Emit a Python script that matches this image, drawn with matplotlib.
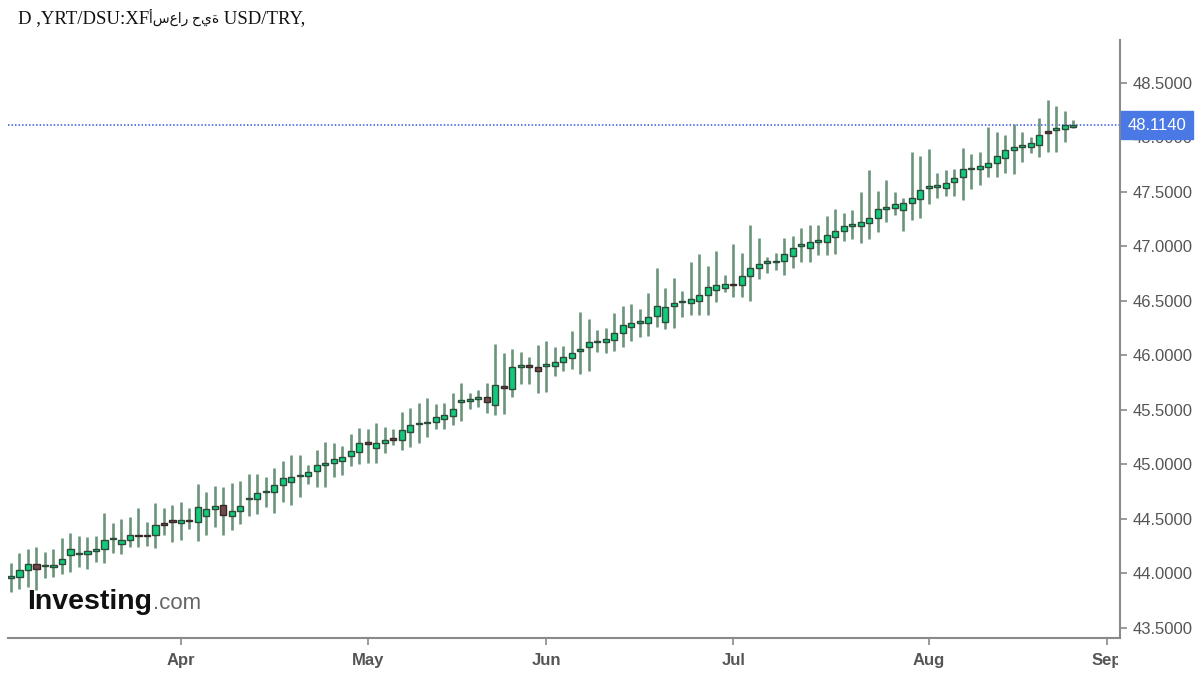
import numpy as np
import pandas as pd
import matplotlib
matplotlib.use("agg")
import matplotlib.pyplot as plt
from matplotlib.transforms import Bbox

# daily USD/TRY candles (weekdays from 2026-03-04)
dates = pd.bdate_range("2026-03-04", periods=126)

opens = [43.960, 43.971, 44.033, 44.087, 44.065, 44.060, 44.090, 44.167, 44.178, 44.179,
         44.210, 44.222, 44.312, 44.271, 44.308, 44.355, 44.353, 44.354, 44.461, 44.480,
         44.461, 44.490, 44.470, 44.531, 44.589, 44.628, 44.530, 44.576, 44.680, 44.680,
         44.745, 44.751, 44.812, 44.842, 44.890, 44.897, 44.943, 44.997, 45.017, 45.032,
         45.078, 45.111, 45.197, 45.154, 45.194, 45.240, 45.225, 45.301, 45.368, 45.377,
         45.393, 45.414, 45.445, 45.574, 45.583, 45.605, 45.616, 45.546, 45.714, 45.696,
         45.898, 45.907, 45.895, 45.905, 45.904, 45.944, 45.980, 46.045, 46.081, 46.122,
         46.124, 46.142, 46.203, 46.259, 46.302, 46.302, 46.363, 46.311, 46.455, 46.486,
         46.479, 46.500, 46.555, 46.601, 46.617, 46.656, 46.644, 46.730, 46.806, 46.850,
         46.853, 46.867, 46.913, 47.008, 46.984, 47.043, 47.045, 47.085, 47.146, 47.188,
         47.191, 47.219, 47.265, 47.348, 47.350, 47.335, 47.396, 47.436, 47.537, 47.547,
         47.540, 47.589, 47.635, 47.709, 47.711, 47.733, 47.769, 47.809, 47.885, 47.914,
         47.910, 47.931, 48.063, 48.066, 48.078, 48.093]
highs = [44.094, 44.185, 44.225, 44.241, 44.200, 44.222, 44.323, 44.369, 44.348, 44.332,
         44.345, 44.552, 44.460, 44.497, 44.522, 44.598, 44.476, 44.644, 44.598, 44.629,
         44.660, 44.598, 44.822, 44.751, 44.800, 44.790, 44.833, 44.851, 44.910, 44.910,
         44.888, 44.965, 45.035, 45.087, 45.087, 44.995, 45.133, 45.209, 45.194, 45.173,
         45.280, 45.338, 45.322, 45.384, 45.347, 45.322, 45.484, 45.515, 45.561, 45.607,
         45.555, 45.561, 45.659, 45.751, 45.659, 45.684, 45.751, 46.106, 46.020, 46.057,
         46.035, 45.989, 46.096, 46.136, 46.081, 46.090, 46.225, 46.402, 46.332, 46.234,
         46.255, 46.387, 46.454, 46.473, 46.424, 46.577, 46.800, 46.617, 46.708, 46.592,
         46.861, 46.931, 46.825, 46.962, 46.739, 47.023, 46.944, 47.198, 47.075, 46.901,
         46.944, 47.075, 47.097, 47.167, 47.198, 47.198, 47.280, 47.341, 47.305, 47.335,
         47.497, 47.702, 47.512, 47.610, 47.497, 47.442, 47.864, 47.830, 47.891, 47.671,
         47.702, 47.711, 47.907, 47.846, 47.864, 48.099, 48.054, 48.023, 48.121, 48.054,
         48.008, 48.182, 48.344, 48.289, 48.243, 48.160]
lows = [43.833, 43.855, 43.880, 43.849, 43.956, 43.971, 43.996, 44.017, 44.063, 44.042,
        44.109, 44.100, 44.190, 44.179, 44.240, 44.240, 44.253, 44.231, 44.354, 44.293,
        44.308, 44.406, 44.302, 44.354, 44.429, 44.353, 44.399, 44.454, 44.527, 44.543,
        44.607, 44.558, 44.659, 44.628, 44.705, 44.821, 44.790, 44.790, 44.882, 44.903,
        44.986, 45.004, 45.017, 45.017, 45.102, 45.179, 45.133, 45.163, 45.194, 45.255,
        45.323, 45.323, 45.362, 45.399, 45.506, 45.525, 45.476, 45.454, 45.463, 45.616,
        45.739, 45.739, 45.653, 45.665, 45.812, 45.861, 45.873, 45.830, 45.861, 46.029,
        46.020, 46.044, 46.081, 46.136, 46.173, 46.179, 46.265, 46.240, 46.250, 46.357,
        46.372, 46.372, 46.372, 46.494, 46.586, 46.540, 46.534, 46.503, 46.699, 46.760,
        46.785, 46.739, 46.800, 46.861, 46.861, 46.922, 46.922, 46.932, 47.054, 47.069,
        47.035, 47.069, 47.130, 47.228, 47.289, 47.142, 47.243, 47.258, 47.387, 47.448,
        47.466, 47.466, 47.427, 47.525, 47.564, 47.641, 47.641, 47.671, 47.662, 47.778,
        47.855, 47.824, 47.864, 47.864, 47.962, 48.084]
closes = [43.970, 44.033, 44.088, 44.045, 44.070, 44.080, 44.137, 44.225, 44.182, 44.210,
          44.222, 44.308, 44.316, 44.308, 44.350, 44.340, 44.342, 44.445, 44.449, 44.475,
          44.491, 44.477, 44.614, 44.589, 44.619, 44.535, 44.576, 44.622, 44.685, 44.735,
          44.752, 44.812, 44.873, 44.888, 44.895, 44.934, 44.992, 45.003, 45.050, 45.066,
          45.124, 45.200, 45.188, 45.194, 45.225, 45.228, 45.316, 45.362, 45.372, 45.393,
          45.439, 45.454, 45.512, 45.578, 45.598, 45.610, 45.577, 45.729, 45.702, 45.892,
          45.902, 45.895, 45.858, 45.908, 45.944, 45.983, 46.026, 46.048, 46.121, 46.125,
          46.148, 46.210, 46.280, 46.295, 46.306, 46.351, 46.455, 46.442, 46.482, 46.489,
          46.516, 46.555, 46.626, 46.644, 46.656, 46.644, 46.730, 46.806, 46.837, 46.853,
          46.856, 46.929, 46.984, 47.012, 47.045, 47.047, 47.106, 47.146, 47.188, 47.192,
          47.222, 47.265, 47.341, 47.352, 47.387, 47.402, 47.442, 47.518, 47.541, 47.550,
          47.580, 47.625, 47.711, 47.712, 47.742, 47.769, 47.830, 47.885, 47.916, 47.917,
          47.947, 48.023, 48.045, 48.084, 48.110, 48.114]

last_price = 48.1140
y_ticks = [43.5, 44.0, 44.5, 45.0, 45.5, 46.0, 46.5, 47.0, 47.5, 48.0, 48.5]
month_labels = ["Apr", "May", "Jun", "Jul", "Aug", "Sep"]
title_parts = ["D ,YRT/DSU:XF", "أسعار حية", " USD/TRY,"]

# x position of each month start in trading-day index
all_days = pd.bdate_range(dates[0], "2026-09-30")
month_pos = []
for m in [4, 5, 6, 7, 8, 9]:
    month_pos.append(int(np.argmax(all_days.month == m)))

o = np.array(opens)
h = np.array(highs)
l = np.array(lows)
c = np.array(closes)
x = np.arange(len(o))
up = c >= o

fig = plt.figure(figsize=(12, 6.75), dpi=100)
ax = fig.add_axes([8 / 1200, 37 / 675, 1112 / 1200, 598 / 675])

# wicks
ax.vlines(x, l, h, color="#6b957a", lw=1.9, zorder=2)

# bodies
bottom = np.minimum(o, c)
height = np.maximum(np.abs(c - o), 0.014)
ax.bar(x[up], height[up], bottom=bottom[up], width=0.72,
       color="#12c97c", edgecolor="#2c4a37", linewidth=1.0, zorder=3)
ax.bar(x[~up], height[~up], bottom=bottom[~up], width=0.72,
       color="#6f4a4a", edgecolor="#3a2828", linewidth=1.0, zorder=3)

# last price line + label
ax.axhline(last_price, color="#3358e6", ls=(0, (1, 1.3)), lw=1.1, zorder=1)
ax.text(1.0065, last_price, f"{last_price:.4f}", transform=ax.get_yaxis_transform(),
        ha="left", va="center", color="white", fontsize=12,
        family="Liberation Sans", clip_on=False, zorder=10,
        bbox=dict(boxstyle="square,pad=0.4", fc="#4a78e4", ec="#4a78e4"))

ax.set_xlim(-0.35, 130.5)
ax.set_ylim(43.408, 48.894)

for s in ["top", "left"]:
    ax.spines[s].set_visible(False)
for s in ["right", "bottom"]:
    ax.spines[s].set_color("#8a8a8a")
    ax.spines[s].set_linewidth(1.5)

ax.yaxis.tick_right()
ax.set_yticks(y_ticks)
ax.set_yticklabels([f"{v:.4f}" for v in y_ticks])
ax.tick_params(axis="y", colors="#8a8a8a", labelcolor="#555555", length=5,
               width=1.2, labelsize=12, pad=4)
for t in ax.get_yticklabels():
    t.set_family("Liberation Sans")

ax.set_xticks(month_pos)
ax.set_xticklabels(month_labels)
ax.tick_params(axis="x", colors="#8a8a8a", labelcolor="#555555", length=5,
               width=1.2, labelsize=12, pad=6)
for t in ax.get_xticklabels():
    t.set_family(["Liberation Sans Narrow", "Liberation Sans"])
    t.set_fontweight("bold")
ax.get_xticklabels()[-1].set_clip_box(Bbox.from_extents(0, 0, 1118, 675))
ax.get_xticklabels()[-1].set_clip_on(True)

# title, pieces chained left to right
fig.canvas.draw()
tx = 18
title_y = (675 - 23) / 675
for part, size in zip(title_parts, [13.5, 10, 13.5]):
    t = fig.text(tx / 1200, title_y, part, ha="left", va="baseline", fontsize=size,
                 family=["Liberation Serif", "DejaVu Sans"], color="#111111")
    fig.canvas.draw()
    tx = t.get_window_extent().x1

# watermark logo
logo = fig.text(27 / 1200, (675 - 609) / 675, "Investing", ha="left", va="baseline",
                fontsize=20.5, fontweight="bold", family="Liberation Sans",
                color="#111111")
fig.canvas.draw()
bb = logo.get_window_extent()
fig.text(bb.x1 / 1200 + 0.001, (675 - 609) / 675, ".com", ha="left", va="baseline",
         fontsize=16, family="Liberation Sans", color="#666666")

fig.savefig("out.png", dpi=100)
